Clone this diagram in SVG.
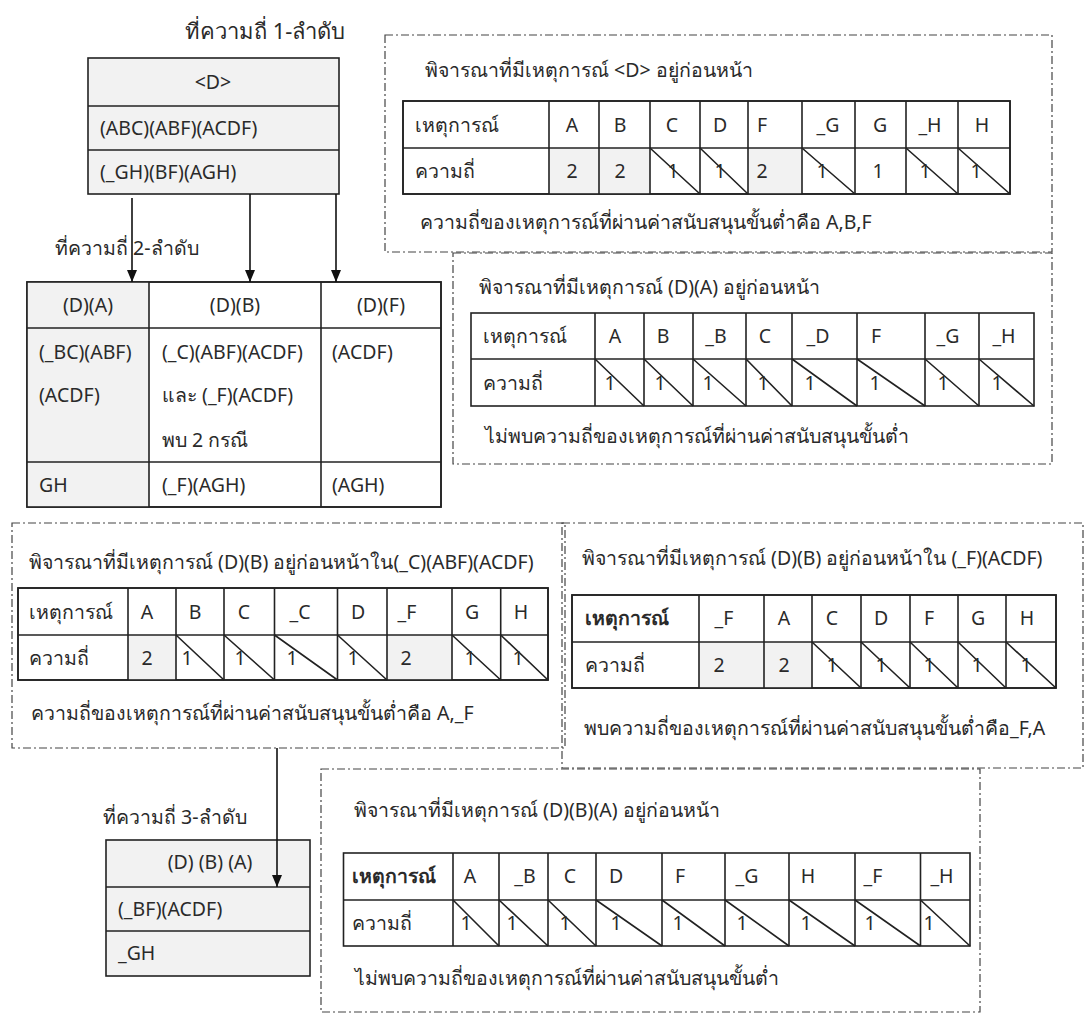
<svg xmlns="http://www.w3.org/2000/svg" width="1084" height="1018" viewBox="0 0 1084 1018">
<defs>
<style>
.t{font-family:"Noto Sans","DejaVu Sans",sans-serif;font-size:19.5px;fill:#2a2a2a}
.m{text-anchor:middle}
.b{font-weight:bold}
.box{fill:#f2f2f2;stroke:#222;stroke-width:1.6}
.cell{fill:#fff;stroke:#222;stroke-width:1.6}
.g{fill:#f2f2f2;stroke:none}
.ln{stroke:#222;stroke-width:1.6;fill:none}
.sl{stroke:#222;stroke-width:1.6}
.dash{fill:none;stroke:#444;stroke-width:1.2;stroke-dasharray:8 3 2 3}
.arr{stroke:#111;stroke-width:1.6;fill:none;marker-end:url(#ah)}
</style>
<marker id="ah" viewBox="0 0 12 10" refX="12" refY="5" markerWidth="12" markerHeight="10" markerUnits="userSpaceOnUse" orient="auto">
<path d="M0,0 L12,5 L0,10 z" fill="#111"/>
</marker>
</defs>
<rect width="1084" height="1018" fill="#fff"/>

<!-- labels -->
<text class="t" x="185" y="39" style="font-size:22px">ที่ความถี่ 1-ลำดับ</text>
<text class="t" x="55" y="255">ที่ความถี่ 2-ลำดับ</text>
<text class="t" x="103" y="824">ที่ความถี่ 3-ลำดับ</text>

<!-- top node <D> -->
<g id="node-D">
<rect class="box" x="88" y="58" width="251" height="136"/>
<line class="ln" x1="88" y1="106" x2="339" y2="106"/>
<line class="ln" x1="88" y1="150" x2="339" y2="150"/>
<text class="t m" x="213" y="89">&lt;D&gt;</text>
<text class="t" x="100" y="135">(ABC)(ABF)(ACDF)</text>
<text class="t" x="100" y="179">(_GH)(BF)(AGH)</text>
</g>

<!-- level 2 table -->
<g id="node-level2">
<rect class="cell" x="27" y="282" width="414" height="225"/>
<rect class="g" x="27" y="282" width="122" height="225"/>
<rect class="ln" x="27" y="282" width="414" height="225"/>
<line class="ln" x1="149" y1="282" x2="149" y2="507"/>
<line class="ln" x1="321" y1="282" x2="321" y2="507"/>
<line class="ln" x1="27" y1="328" x2="441" y2="328"/>
<line class="ln" x1="27" y1="462" x2="441" y2="462"/>
<text class="t m" x="88" y="312">(D)(A)</text>
<text class="t m" x="235" y="312">(D)(B)</text>
<text class="t m" x="381" y="312">(D)(F)</text>
<text class="t" x="39" y="359">(_BC)(ABF)</text>
<text class="t" x="39" y="402">(ACDF)</text>
<text class="t" x="162" y="359">(_C)(ABF)(ACDF)</text>
<text class="t" x="162" y="402">และ (_F)(ACDF)</text>
<text class="t" x="162" y="447">พบ 2 กรณี</text>
<text class="t" x="332" y="359">(ACDF)</text>
<text class="t" x="39" y="492">GH</text>
<text class="t" x="162" y="492">(_F)(AGH)</text>
<text class="t" x="332" y="492">(AGH)</text>
</g>

<!-- box 1 -->
<g id="box-D">
<rect class="dash" x="385" y="35" width="667" height="217"/>
<text class="t" x="425" y="77">พิจารณาที่มีเหตุการณ์ &lt;D&gt; อยู่ก่อนหน้า</text>
<rect class="cell" x="403" y="101" width="607" height="93"/>
<rect class="g" x="549" y="148" width="101" height="46"/>
<rect class="g" x="748" y="148" width="54" height="46"/>
<rect class="ln" x="403" y="101" width="607" height="93"/>
<line class="ln" x1="403" y1="148" x2="1010" y2="148"/>
<path class="ln" d="M549,101V194M599,101V194M650,101V194M700,101V194M748,101V194M802,101V194M855,101V194M906,101V194M958,101V194"/>
<path class="sl" d="M650,148L700,194M700,148L748,194M802,148L855,194M906,148L958,194M958,148L1010,194"/>
<text class="t" x="415" y="132">เหตุการณ์</text>
<text class="t m" x="572" y="132">A</text>
<text class="t m" x="620" y="132">B</text>
<text class="t m" x="672" y="132">C</text>
<text class="t m" x="720" y="132">D</text>
<text class="t m" x="762" y="132">F</text>
<text class="t m" x="828" y="132">_G</text>
<text class="t m" x="880" y="132">G</text>
<text class="t m" x="930" y="132">_H</text>
<text class="t m" x="982" y="132">H</text>
<text class="t" x="415" y="178">ความถี่</text>
<text class="t m" x="572" y="178">2</text>
<text class="t m" x="620" y="178">2</text>
<text class="t m" x="673" y="178">1</text>
<text class="t m" x="720" y="178">1</text>
<text class="t m" x="762" y="178">2</text>
<text class="t m" x="822" y="178">1</text>
<text class="t m" x="878" y="178">1</text>
<text class="t m" x="925" y="178">1</text>
<text class="t m" x="976" y="178">1</text>
<text class="t" x="420" y="229">ความถี่ของเหตุการณ์ที่ผ่านค่าสนับสนุนขั้นต่ำคือ A,B,F</text>
</g>

<!-- box 2 -->
<g id="box-DA">
<rect class="dash" x="453" y="253" width="599" height="211"/>
<text class="t" x="479" y="294">พิจารณาที่มีเหตุการณ์ (D)(A) อยู่ก่อนหน้า</text>
<rect class="cell" x="471" y="313" width="563" height="93"/>
<line class="ln" x1="471" y1="359" x2="1034" y2="359"/>
<path class="ln" d="M595,313V406M644,313V406M693,313V406M746,313V406M792,313V406M857,313V406M925,313V406M979,313V406"/>
<path class="sl" d="M595,359L644,406M644,359L693,406M693,359L746,406M746,359L792,406M792,359L857,406M857,359L925,406M925,359L979,406M979,359L1034,406"/>
<text class="t" x="483" y="343">เหตุการณ์</text>
<text class="t m" x="615" y="343">A</text>
<text class="t m" x="663" y="343">B</text>
<text class="t m" x="716" y="343">_B</text>
<text class="t m" x="765" y="343">C</text>
<text class="t m" x="818" y="343">_D</text>
<text class="t m" x="876" y="343">F</text>
<text class="t m" x="948" y="343">_G</text>
<text class="t m" x="1004" y="343">_H</text>
<text class="t" x="483" y="390">ความถี่</text>
<text class="t m" x="610" y="390">1</text>
<text class="t m" x="660" y="390">1</text>
<text class="t m" x="708" y="390">1</text>
<text class="t m" x="763" y="390">1</text>
<text class="t m" x="810" y="390">1</text>
<text class="t m" x="875" y="390">1</text>
<text class="t m" x="943" y="390">1</text>
<text class="t m" x="997" y="390">1</text>
<text class="t" x="485" y="443">ไม่พบความถี่ของเหตุการณ์ที่ผ่านค่าสนับสนุนขั้นต่ำ</text>
</g>

<!-- box 3 -->
<g id="box-DB-1">
<rect class="dash" x="12" y="523" width="553" height="225"/>
<text class="t" x="29" y="569">พิจารณาที่มีเหตุการณ์ (D)(B) อยู่ก่อนหน้าใน(_C)(ABF)(ACDF)</text>
<rect class="cell" x="18" y="588" width="530" height="92"/>
<rect class="g" x="128" y="635" width="48" height="45"/>
<rect class="g" x="387" y="635" width="65" height="45"/>
<rect class="ln" x="18" y="588" width="530" height="92"/>
<line class="ln" x1="18" y1="635" x2="548" y2="635"/>
<path class="ln" d="M128,588V680M176,588V680M224,588V680M274.5,588V680M337.5,588V680M387,588V680M452,588V680M500.7,588V680"/>
<path class="sl" d="M176,635L224,680M224,635L274.5,680M274.5,635L337.5,680M337.5,635L387,680M452,635L500.7,680M500.7,635L548,680"/>
<text class="t" x="29" y="619">เหตุการณ์</text>
<text class="t m" x="147" y="619">A</text>
<text class="t m" x="195" y="619">B</text>
<text class="t m" x="244" y="619">C</text>
<text class="t m" x="300" y="619">_C</text>
<text class="t m" x="358" y="619">D</text>
<text class="t m" x="407" y="619">_F</text>
<text class="t m" x="472" y="619">G</text>
<text class="t m" x="521" y="619">H</text>
<text class="t" x="29" y="665">ความถี่</text>
<text class="t m" x="147" y="665">2</text>
<text class="t m" x="187" y="665">1</text>
<text class="t m" x="240" y="665">1</text>
<text class="t m" x="292" y="665">1</text>
<text class="t m" x="353" y="665">1</text>
<text class="t m" x="406" y="665">2</text>
<text class="t m" x="470" y="665">1</text>
<text class="t m" x="518" y="665">1</text>
<text class="t" x="31" y="720">ความถี่ของเหตุการณ์ที่ผ่านค่าสนับสนุนขั้นต่ำคือ A,_F</text>
</g>

<!-- box 4 -->
<g id="box-DB-2">
<rect class="dash" x="562" y="523" width="521" height="245"/>
<text class="t" x="582" y="565">พิจารณาที่มีเหตุการณ์ (D)(B) อยู่ก่อนหน้าใน (_F)(ACDF)</text>
<rect class="cell" x="572" y="595" width="484" height="93"/>
<rect class="g" x="699" y="642" width="113" height="46"/>
<rect class="ln" x="572" y="595" width="484" height="93"/>
<line class="ln" x1="572" y1="642" x2="1056" y2="642"/>
<path class="ln" d="M699,595V688M764,595V688M812,595V688M861,595V688M910,595V688M958,595V688M1006,595V688"/>
<path class="sl" d="M812,642L861,688M861,642L910,688M910,642L958,688M958,642L1006,688M1006,642L1056,688"/>
<text class="t b" x="585" y="625">เหตุการณ์</text>
<text class="t m" x="724" y="625">_F</text>
<text class="t m" x="784" y="625">A</text>
<text class="t m" x="832" y="625">C</text>
<text class="t m" x="881" y="625">D</text>
<text class="t m" x="929" y="625">F</text>
<text class="t m" x="978" y="625">G</text>
<text class="t m" x="1027" y="625">H</text>
<text class="t" x="585" y="672">ความถี่</text>
<text class="t m" x="719" y="672">2</text>
<text class="t m" x="784" y="672">2</text>
<text class="t m" x="832" y="672">1</text>
<text class="t m" x="881" y="672">1</text>
<text class="t m" x="929" y="672">1</text>
<text class="t m" x="977" y="672">1</text>
<text class="t m" x="1026" y="672">1</text>
<text class="t" x="584" y="735">พบความถี่ของเหตุการณ์ที่ผ่านค่าสนับสนุนขั้นต่ำคือ_F,A</text>
</g>

<!-- level 3 node -->
<g id="node-DBA">
<rect class="box" x="106" y="840" width="204" height="136"/>
<line class="ln" x1="106" y1="887" x2="310" y2="887"/>
<line class="ln" x1="106" y1="931" x2="310" y2="931"/>
<text class="t m" x="210" y="869">(D) (B) (A)</text>
<text class="t" x="118" y="916">(_BF)(ACDF)</text>
<text class="t" x="118" y="960">_GH</text>
</g>

<!-- bottom box -->
<g id="box-DBA">
<rect class="dash" x="321" y="769" width="659" height="243"/>
<text class="t" x="354" y="817">พิจารณาที่มีเหตุการณ์ (D)(B)(A) อยู่ก่อนหน้า</text>
<rect class="cell" x="343.5" y="853" width="626.5" height="93"/>
<line class="ln" x1="343.5" y1="900" x2="970" y2="900"/>
<path class="ln" d="M453,853V946M499,853V946M548,853V946M596,853V946M662,853V946M725,853V946M789,853V946M855,853V946M920.5,853V946"/>
<path class="sl" d="M453,900L499,946M499,900L548,946M548,900L596,946M596,900L662,946M662,900L725,946M725,900L789,946M789,900L855,946M855,900L920.5,946M920.5,900L970,946"/>
<text class="t b" x="352" y="883">เหตุการณ์</text>
<text class="t m" x="470" y="883">A</text>
<text class="t m" x="525" y="883">_B</text>
<text class="t m" x="570" y="883">C</text>
<text class="t m" x="616" y="883">D</text>
<text class="t m" x="680" y="883">F</text>
<text class="t m" x="747" y="883">_G</text>
<text class="t m" x="808" y="883">H</text>
<text class="t m" x="873" y="883">_F</text>
<text class="t m" x="942" y="883">_H</text>
<text class="t" x="352" y="930">ความถี่</text>
<text class="t m" x="466" y="930">1</text>
<text class="t m" x="512" y="930">1</text>
<text class="t m" x="565" y="930">1</text>
<text class="t m" x="616" y="930">1</text>
<text class="t m" x="678" y="930">1</text>
<text class="t m" x="742" y="930">1</text>
<text class="t m" x="806" y="930">1</text>
<text class="t m" x="870" y="930">1</text>
<text class="t m" x="929" y="930">1</text>
<text class="t" x="355" y="985">ไม่พบความถี่ของเหตุการณ์ที่ผ่านค่าสนับสนุนขั้นต่ำ</text>
</g>

<!-- connectors -->
<g id="connectors">
<line class="arr" x1="132" y1="198" x2="132" y2="282"/>
<line class="arr" x1="250" y1="194" x2="250" y2="282"/>
<line class="arr" x1="336" y1="194" x2="336" y2="282"/>
<line class="arr" x1="277" y1="748" x2="277" y2="887"/>
</g>
</svg>
